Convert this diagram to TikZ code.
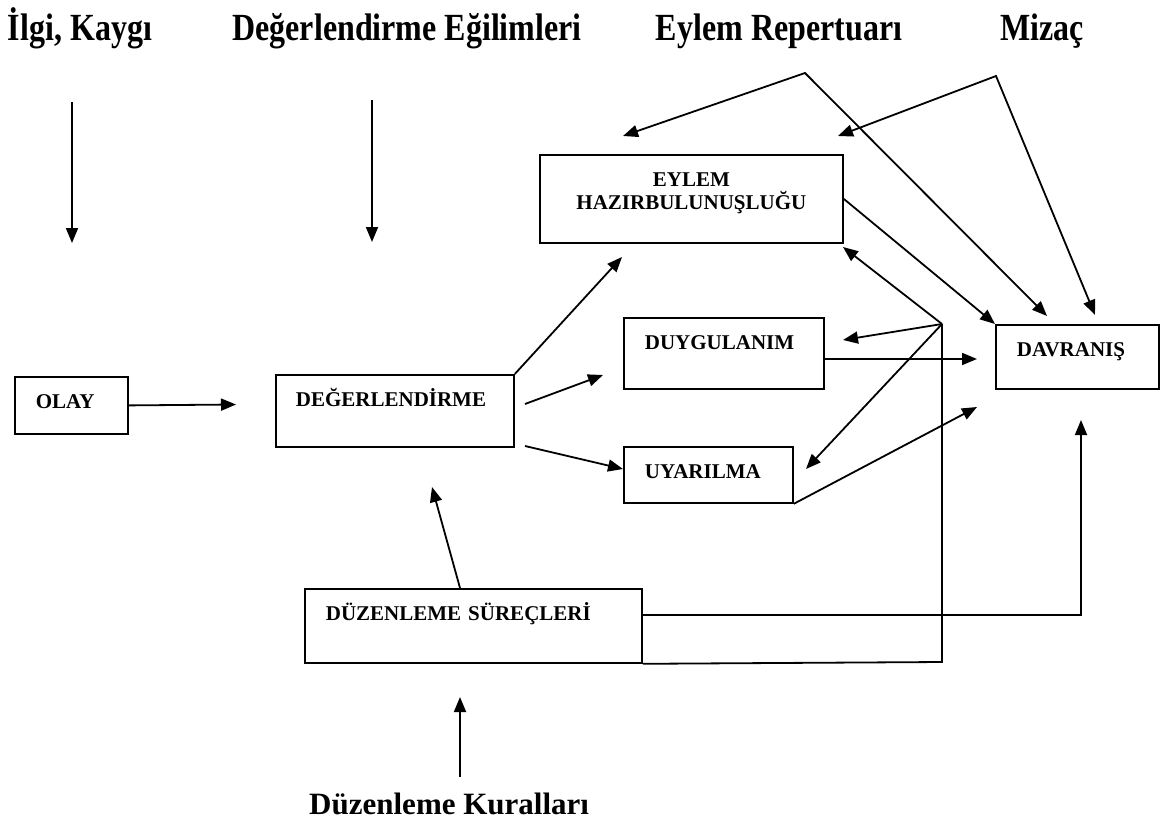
\documentclass[tikz,border=0pt]{standalone}
\usepackage{fontspec}
\setmainfont{Liberation Serif}
\usetikzlibrary{arrows.meta}

\begin{document}
\begin{tikzpicture}[x=1pt,y=-1pt,>={Triangle[length=15pt,width=12pt]},line width=1.8pt,
  box/.style={draw,anchor=north west,inner xsep=21pt,inner ysep=0pt,text height=32pt,align=left,font=\fontsize{21}{23}\selectfont\bfseries},
  head/.style={anchor=base,yscale=1.2,font=\fontsize{32}{36}\selectfont\bfseries}]
\useasboundingbox (0,0) rectangle (1161,822);
% headings
\node[head] (ilgi) at (80,40) {İlgi, Kaygı};
\node[head] (egilim) at (407,40) {Değerlendirme Eğilimleri};
\node[head] (repertuar) at (779,40) {Eylem Repertuarı};
\node[head] (mizac) at (1042,40) {Mizaç};
\node[anchor=base west,font=\fontsize{31}{36}\selectfont\bfseries] (kural) at (305,814) {Düzenleme Kuralları};
% boxes
\node[box,text width=71pt,text depth=25pt] (olay) at (14,376) {OLAY};
\node[box,text width=198pt,text depth=40pt,inner xsep=20pt] (deger) at (275,374) {DEĞERLENDİRME};
\node[box,text width=261pt,text depth=56pt,align=center] (eylem) at (539,154) {EYLEM\\HAZIRBULUNUŞLUĞU};
\node[box,text width=158pt,text depth=39pt] (duygu) at (623,317) {DUYGULANIM};
\node[box,text width=127pt,text depth=24pt] (uyar) at (623,446) {UYARILMA};
\node[box,text width=121pt,text depth=32pt] (davr) at (995,324) {DAVRANIŞ};
\node[box,text width=295pt,text depth=42pt] (duzen) at (304,588) {DÜZENLEME SÜREÇLERİ};
% free ends
\coordinate (ilgi a) at (72,102);
\coordinate (ilgi b) at (72,243);
\coordinate (egilim a) at (372,100);
\coordinate (egilim b) at (372,242);
\coordinate (olay out) at (236,404.5);
\coordinate (eylem in1) at (622,257);
\coordinate (deger out1) at (525,404);
\coordinate (duygu in1) at (603,375);
\coordinate (deger out2) at (525,446);
\coordinate (uyar in1) at (623,469);
\coordinate (hub) at (942,324);
\coordinate (eylem in2) at (843,247);
\coordinate (duygu in2) at (843,340);
\coordinate (uyar in2) at (806,469);
\coordinate (corner) at (942,662);
\coordinate (davr in1) at (977,359);
\coordinate (davr in2) at (977,407);
\coordinate (davr in3) at (1081,420);
\coordinate (duzen out) at (641,615);
\coordinate (rep) at (805,73);
\coordinate (rep a) at (623,136);
\coordinate (rep b) at (1047,316);
\coordinate (miz) at (996,76);
\coordinate (miz a) at (838,136);
\coordinate (miz b) at (1095,315);
\coordinate (duzen up) at (460,588);
\coordinate (deger in) at (432,487);
\coordinate (kural a) at (460,777);
\coordinate (kural b) at (460,697);
% arrows
\draw[->] (ilgi a) -- (ilgi b);
\draw[->] (egilim a) -- (egilim b);
\draw[->] (olay.east) -- (olay out);
\draw[->] (deger.north east) -- (eylem in1);
\draw[->] (deger out1) -- (duygu in1);
\draw[->] (deger out2) -- (uyar in1);
\draw[->] (hub) -- (eylem in2);
\draw[->] (hub) -- (duygu in2);
\draw[->] (hub) -- (uyar in2);
\draw (duzen.south east) -- (corner) -- (hub);
\draw[->] (duygu.east |- davr in1) -- (davr in1);
\draw[->] (uyar.south east) -- (davr in2);
\draw[->] (eylem.east) -- (davr.north west);
\draw[<->] (rep a) -- (rep) -- (rep b);
\draw[<->] (miz a) -- (miz) -- (miz b);
\draw[->] (duzen out) -| (davr in3);
\draw[->] (duzen up) -- (deger in);
\draw[->] (kural a) -- (kural b);
\end{tikzpicture}
\end{document}
